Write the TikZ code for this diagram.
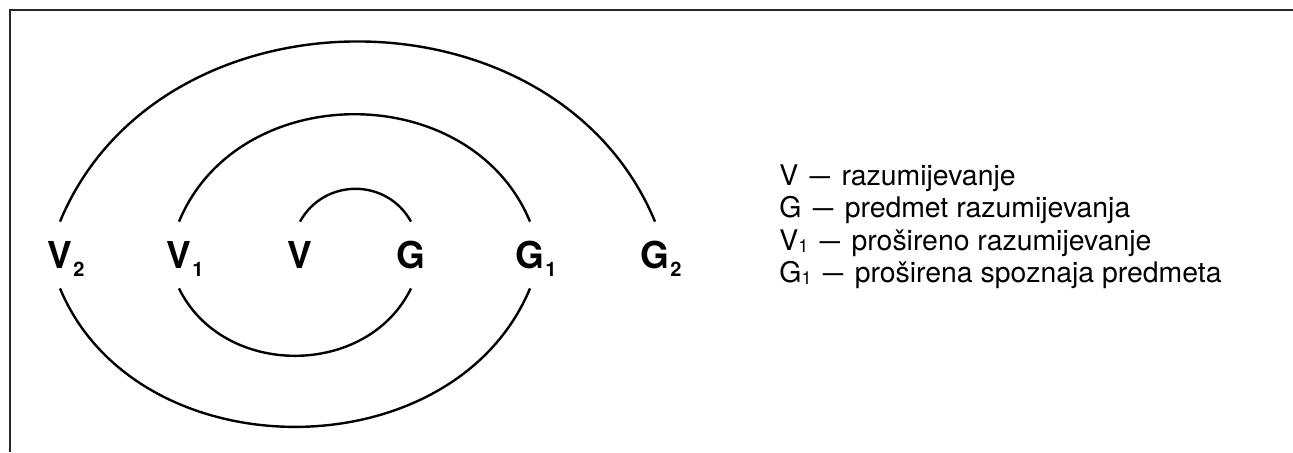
\documentclass[tikz,border=0pt]{standalone}
\usepackage{fontspec}
\setmainfont{TeX Gyre Heros}
\newcommand{\sublab}[2]{#1\rlap{\hspace{0.5pt}\raisebox{-4pt}{\fontsize{10}{10}\selectfont #2}}}
\newcommand{\subleg}[2]{#1\raisebox{-1.2pt}{\fontsize{9}{10}\selectfont #2}}
\newcommand{\legdash}{\hspace{0.4em}\scalebox{1.3}[1]{--}\hspace{0.4em}}

\begin{document}
\begin{tikzpicture}[x=0.5pt,y=0.5pt,
  lab/.style={font=\fontsize{18.5}{20}\selectfont\bfseries, anchor=base,
    inner xsep=0pt, inner ysep=7.5pt, text height=15.5pt, text depth=2.5pt},
  leg/.style={font=\fontsize{14.2}{18}\selectfont, anchor=base west, inner sep=0pt},
  arcline/.style={line width=1.2pt}]
\useasboundingbox (0,0) rectangle (1293,-452);
% frame
\draw[line width=1pt, black!85] (10,-452) -- (10,-10) -- (1293,-10);
% labels
\node[lab] (v2) at (60,-268)  {\sublab{V}{2}};
\node[lab] (v1) at (179,-268) {\sublab{V}{1}};
\node[lab] (v)  at (300,-268) {V};
\node[lab] (g)  at (411,-268) {G};
\node[lab] (g1) at (530,-268) {\sublab{G}{1}};
\node[lab] (g2) at (655,-268) {\sublab{G}{2}};
% upper arcs
\draw[arcline] (v2.north) .. controls +(67.5:260) and +(112.5:260) .. (g2.north);
\draw[arcline] (v1.north) .. controls +(67.5:155) and +(112.5:155) .. (g1.north);
\draw[arcline] (v.north) .. controls +(61:50) and +(119:50) .. (g.north);
% lower arcs
\draw[arcline] (v1.south) .. controls +(-64:100) and +(-116:100) .. (g.south);
\draw[arcline] (v2.south) .. controls +(-67.4:200) and +(-112.6:200) .. (g1.south);
% legend
\node[leg] (l1) at (779,-185)   {V\legdash razumijevanje};
\node[leg] (l2) at (779,-217.5) {G\legdash predmet razumijevanja};
\node[leg] (l3) at (779,-250)   {\subleg{V}{1}\legdash prošireno razumijevanje};
\node[leg] (l4) at (779,-282.5) {\subleg{G}{1}\legdash proširena spoznaja predmeta};
\end{tikzpicture}
\end{document}
